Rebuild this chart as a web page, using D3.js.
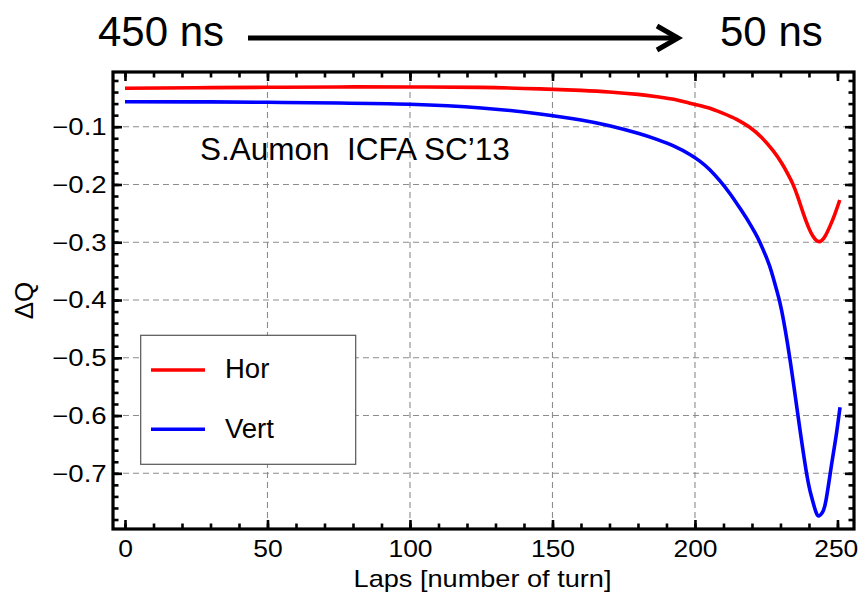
<!DOCTYPE html>
<html>
<head>
<meta charset="utf-8">
<script src="https://cdn.jsdelivr.net/npm/d3@7"></script>
<style>
  html, body { margin: 0; padding: 0; background: #fff; }
  svg { display: block; font-family: "Liberation Sans", Arial, Helvetica, sans-serif; }
</style>
</head>
<body>
<svg id="chart" width="858" height="597"></svg>
<script>
// ---- data ----
const horLaps = [0, 25, 50, 75, 100, 125, 145.6, 160, 170, 180, 187, 193, 198.2, 204, 209.9, 214.6, 219.2, 223.3, 227.4, 230.35, 232.7, 234.4, 236.2, 237.95, 239.7, 241.46, 243.56, 245.55, 247.3, 249.06, 250.81];
const horDQ   = [-0.0335, -0.0325, -0.0318, -0.0312, -0.0312, -0.0320, -0.0345, -0.0372, -0.0398, -0.0440, -0.0483, -0.0530, -0.0595, -0.0665, -0.0769, -0.0872, -0.1011, -0.1184, -0.1415, -0.1625, -0.1828, -0.1998, -0.2232, -0.2492, -0.2725, -0.2902, -0.2990, -0.2904, -0.2730, -0.2517, -0.2269];

const vertLaps = [0, 25, 50, 75, 100, 125, 145.6, 160, 170, 180, 186.6, 193, 198.2, 201.7, 205.2, 208.7, 212.3, 215.8, 218.7, 221.1, 222.8, 225.2, 226.9, 228.5, 230.4, 233.3, 236.2, 239.2, 240.9, 242.4, 243.5, 244.7, 246.0, 248.0, 249.5, 250.9];
const vertDQ   = [-0.0567, -0.0570, -0.0578, -0.0590, -0.0612, -0.0675, -0.0780, -0.0885, -0.0985, -0.1115, -0.1220, -0.1345, -0.1480, -0.1595, -0.1745, -0.1935, -0.2160, -0.2413, -0.2635, -0.2840, -0.3005, -0.3280, -0.3520, -0.3800, -0.4180, -0.5016, -0.6020, -0.7012, -0.7405, -0.7664, -0.7739, -0.7680, -0.7460, -0.6827, -0.6360, -0.5857];

const seriesNames = ["Hor", "Vert"];
const seriesColors = ["#ff0000", "#0000ff"];

const xTicks = [0, 50, 100, 150, 200, 250];
const xMinorTicks = d3.range(0, 251, 10);
const yTicks = [-0.1, -0.2, -0.3, -0.4, -0.5, -0.6, -0.7];
const yMinorTicks = d3.range(-0.78, -0.019, 0.02).map(v => +v.toFixed(2));
const xGrid = [50, 100, 150, 200];

const xLabel = "Laps [number of turn]";
const yLabel = "ΔQ";
const annotation = "S.Aumon  ICFA SC’13";
const topLeftText = "450 ns";
const topRightText = "50 ns";

// ---- layout ----
const L = 113, R = 854, T = 72, B = 529;
const svg = d3.select("#chart");

const x = d3.scaleLinear().domain([-4.21, 255.8]).range([L, R]);
const y = d3.scaleLinear().domain([-0.00531, -0.7964]).range([T, B]);

// grid
const grid = svg.append("g").attr("stroke", "#8c8c8c").attr("stroke-width", 1.1).attr("stroke-dasharray", "6,4");
grid.selectAll("line.gx").data(xGrid).join("line")
  .attr("x1", d => x(d)).attr("x2", d => x(d)).attr("y1", T).attr("y2", B);
grid.selectAll("line.gy").data(yTicks).join("line")
  .attr("y1", d => y(d)).attr("y2", d => y(d)).attr("x1", L).attr("x2", R);

// annotation
svg.append("text")
  .attr("x", 200).attr("y", 159.5)
  .attr("font-size", 31.5)
  .style("white-space", "pre")
  .attr("fill", "#000")
  .text(annotation);

// curves
const line = d3.line().x(d => x(d[0])).y(d => y(d[1])).curve(d3.curveNatural);
const series = [
  d3.zip(horLaps, horDQ),
  d3.zip(vertLaps, vertDQ)
];
svg.append("g").selectAll("path").data(series).join("path")
  .attr("d", line)
  .attr("fill", "none")
  .attr("stroke", (d, i) => seriesColors[i])
  .attr("stroke-width", 3.6)
  .attr("stroke-linejoin", "round")
  .attr("stroke-linecap", "butt");

// legend
const lg = svg.append("g");
lg.append("rect").attr("x", 140.7).attr("y", 335.3).attr("width", 215).attr("height", 129)
  .attr("fill", "#fff").attr("stroke", "#555").attr("stroke-width", 1.2);
const legendRows = [370, 429.3];
seriesNames.forEach((name, i) => {
  lg.append("line").attr("x1", 151).attr("x2", 205).attr("y1", legendRows[i]).attr("y2", legendRows[i])
    .attr("stroke", seriesColors[i]).attr("stroke-width", 3.6);
  lg.append("text").attr("x", 225).attr("y", legendRows[i] + 8.3)
    .attr("font-size", 27.5).attr("fill", "#000").text(name);
});

// axes with inward ticks on all four sides
function styleAxis(g) {
  g.select(".domain").remove();
  g.selectAll(".tick line").attr("stroke", "#000").attr("stroke-width", 2.6);
}
const fmtX = d3.format("d");
const fmtY = d3.format(".1f");

// bottom
const bottom = svg.append("g").attr("transform", `translate(0,${B})`);
bottom.call(d3.axisBottom(x).tickValues(xMinorTicks).tickSize(-5.5).tickFormat("")).call(styleAxis);
const bottomMajor = svg.append("g").attr("transform", `translate(0,${B})`);
bottomMajor.call(d3.axisBottom(x).tickValues(xTicks).tickSize(-9).tickFormat(fmtX)).call(styleAxis);
bottomMajor.selectAll(".tick text")
  .attr("x", d => d === 250 ? -1.5 : 0)
  .attr("y", 28).attr("dy", 0)
  .attr("font-size", 23).attr("fill", "#000")
  .attr("font-family", "'Liberation Sans', Arial, sans-serif")
  .attr("transform", "scale(1.15,1)");

// top
svg.append("g").attr("transform", `translate(0,${T})`)
  .call(d3.axisTop(x).tickValues(xMinorTicks).tickSize(-5.5).tickFormat("")).call(styleAxis);
svg.append("g").attr("transform", `translate(0,${T})`)
  .call(d3.axisTop(x).tickValues(xTicks).tickSize(-9).tickFormat("")).call(styleAxis);

// left
svg.append("g").attr("transform", `translate(${L},0)`)
  .call(d3.axisLeft(y).tickValues(yMinorTicks).tickSize(-5.5).tickFormat("")).call(styleAxis);
const leftMajor = svg.append("g").attr("transform", `translate(${L},0)`);
leftMajor.call(d3.axisLeft(y).tickValues(yTicks).tickSize(-9).tickFormat(fmtY)).call(styleAxis);
leftMajor.selectAll(".tick text")
  .attr("x", -5.3).attr("dy", "0.34em")
  .attr("font-size", 23).attr("fill", "#000")
  .attr("font-family", "'Liberation Sans', Arial, sans-serif")
  .attr("transform", "scale(1.2,1)");

// right
svg.append("g").attr("transform", `translate(${R},0)`)
  .call(d3.axisRight(y).tickValues(yMinorTicks).tickSize(-5.5).tickFormat("")).call(styleAxis);
svg.append("g").attr("transform", `translate(${R},0)`)
  .call(d3.axisRight(y).tickValues(yTicks).tickSize(-9).tickFormat("")).call(styleAxis);

// frame
svg.append("rect").attr("x", L).attr("y", T).attr("width", R - L).attr("height", B - T)
  .attr("fill", "none").attr("stroke", "#000").attr("stroke-width", 3.2);

// axis labels
svg.append("text")
  .attr("transform", `translate(${(L + R) / 2 - 1},586.5) scale(1.18,1)`)
  .attr("text-anchor", "middle").attr("font-size", 23).attr("fill", "#000")
  .text(xLabel);
svg.append("text")
  .attr("transform", `translate(33,300.5) rotate(-90)`)
  .attr("text-anchor", "middle").attr("font-size", 26).attr("fill", "#000")
  .text(yLabel);

// top annotation with arrow
svg.append("text").attr("x", 98).attr("y", 46).attr("font-size", 42).attr("fill", "#000").text(topLeftText);
svg.append("text").attr("x", 720).attr("y", 46).attr("font-size", 42).attr("fill", "#000").text(topRightText);
svg.append("line").attr("x1", 248).attr("x2", 676).attr("y1", 38).attr("y2", 38)
  .attr("stroke", "#000").attr("stroke-width", 5);
svg.append("path").attr("d", "M657,26 L678,38 L657,50")
  .attr("fill", "none").attr("stroke", "#000").attr("stroke-width", 5)
  .attr("stroke-linejoin", "miter").attr("stroke-linecap", "butt");
</script>
</body>
</html>
